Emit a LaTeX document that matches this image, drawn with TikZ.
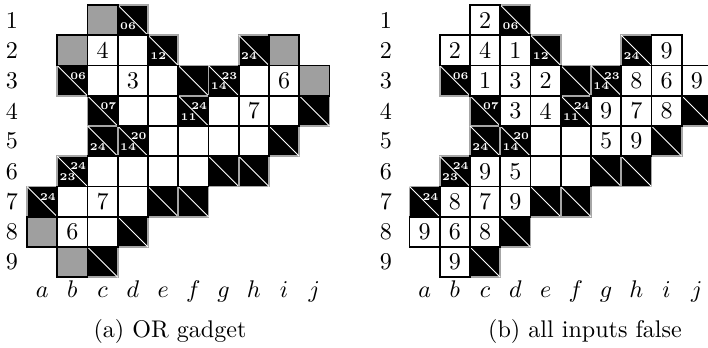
\documentclass[tikz,border=0pt]{standalone}
\usepackage{fontspec}
\tikzset{
  kcell/.style={rectangle, minimum size=12.56pt, inner sep=0pt, outer sep=0pt, line width=0.7pt},
  kwhite/.style={kcell, draw=black, fill=white, font=\normalsize},
  kgray/.style={kcell, draw=black, fill=gray!75},
  kblack/.style={kcell, draw=gray!70, fill=black},
  kdiag/.style={draw=white, line width=0.35pt},
  kclue/.style={text=white, inner sep=0pt, font=\fontsize{4.3}{5}\selectfont\bfseries},
  krow/.style={font=\normalsize},
  kcol/.style={anchor=base, font=\normalsize},
  kcap/.style={anchor=base, font=\normalsize},
}

\begin{document}
\begin{tikzpicture}[x=12.56pt, y=-12.56pt]
  \useasboundingbox (0,0) rectangle (23.405,11.471);
  % ---------------- (a) OR gadget ----------------
  \begin{scope}[shift={(0.893,0.165)}]
    % black cells: col/row/across/down
    \foreach \c/\r/\ac/\dn in {4/1/{}/06, 5/2/{}/12, 8/2/{}/24, 2/3/06/{}, 6/3/{}/{}, 7/3/23/14, 3/4/07/{}, 6/4/24/11, 10/4/{}/{},
        3/5/{}/24, 4/5/20/14, 9/5/{}/{}, 2/6/24/23, 7/6/{}/{}, 8/6/{}/{}, 1/7/24/{}, 5/7/{}/{}, 6/7/{}/{}, 4/8/{}/{}, 3/9/{}/{}} {
      \node[kblack] (a-\c-\r) at (\c-0.5,\r-0.5) {};
      \draw[kdiag] (a-\c-\r.north west) -- (a-\c-\r.south east);
      \node[kclue, anchor=north east] (a-\c-\r-ac) at ([xshift=-0.4pt,yshift=-2.6pt]a-\c-\r.north east) {\ac};
      \node[kclue, anchor=south west] (a-\c-\r-dn) at ([xshift=0.8pt,yshift=2.2pt]a-\c-\r.south west) {\dn};
    }
    % gray cells
    \foreach \c/\r in {3/1, 2/2, 9/2, 10/3, 1/8, 2/9}
      \node[kgray] (a-\c-\r) at (\c-0.5,\r-0.5) {};
    % white cells
    \foreach \c/\r/\v in {3/2/4, 4/2/{}, 3/3/{}, 4/3/3, 5/3/{}, 8/3/{}, 9/3/6, 4/4/{}, 5/4/{}, 7/4/{}, 8/4/7, 9/4/{},
        5/5/{}, 6/5/{}, 7/5/{}, 8/5/{}, 3/6/{}, 4/6/{}, 5/6/{}, 6/6/{}, 2/7/{}, 3/7/7, 4/7/{}, 2/8/6, 3/8/{}}
      \node[kwhite] (a-\c-\r) at (\c-0.5,\r-0.5) {\v};
    % labels
    \foreach \r in {1,...,9}
      \node[krow] (a-row\r) at (-0.5,\r-0.5) {\r};
    \foreach \c/\l in {1/a, 2/b, 3/c, 4/d, 5/e, 6/f, 7/g, 8/h, 9/i, 10/j}
      \node[kcol] (a-col\c) at (\c-0.5,9.68) {$\l$};
  \end{scope}
  \node[kcap] (capa) at (5.62,11.17) {(a) OR gadget};
  % ---------------- (b) all inputs false ----------------
  \begin{scope}[shift={(13.537,0.165)}]
    \foreach \c/\r/\ac/\dn in {4/1/{}/06, 5/2/{}/12, 8/2/{}/24, 2/3/06/{}, 6/3/{}/{}, 7/3/23/14, 3/4/07/{}, 6/4/24/11, 10/4/{}/{},
        3/5/{}/24, 4/5/20/14, 9/5/{}/{}, 2/6/24/23, 7/6/{}/{}, 8/6/{}/{}, 1/7/24/{}, 5/7/{}/{}, 6/7/{}/{}, 4/8/{}/{}, 3/9/{}/{}} {
      \node[kblack] (b-\c-\r) at (\c-0.5,\r-0.5) {};
      \draw[kdiag] (b-\c-\r.north west) -- (b-\c-\r.south east);
      \node[kclue, anchor=north east] (b-\c-\r-ac) at ([xshift=-0.4pt,yshift=-2.6pt]b-\c-\r.north east) {\ac};
      \node[kclue, anchor=south west] (b-\c-\r-dn) at ([xshift=0.8pt,yshift=2.2pt]b-\c-\r.south west) {\dn};
    }
    \foreach \c/\r/\v in {3/1/2, 2/2/2, 3/2/4, 4/2/1, 9/2/9, 3/3/1, 4/3/3, 5/3/2, 8/3/8, 9/3/6, 10/3/9, 4/4/3, 5/4/4, 7/4/9, 8/4/7, 9/4/8,
        5/5/{}, 6/5/{}, 7/5/5, 8/5/9, 3/6/9, 4/6/5, 5/6/{}, 6/6/{}, 2/7/8, 3/7/7, 4/7/9, 1/8/9, 2/8/6, 3/8/8, 2/9/9}
      \node[kwhite] (b-\c-\r) at (\c-0.5,\r-0.5) {\v};
    \foreach \r in {1,...,9}
      \node[krow] (b-row\r) at (-0.78,\r-0.5) {\r};
    \foreach \c/\l in {1/a, 2/b, 3/c, 4/d, 5/e, 6/f, 7/g, 8/h, 9/i, 10/j}
      \node[kcol] (b-col\c) at (\c-0.5,9.68) {$\l$};
  \end{scope}
  \node[kcap] (capb) at (19.34,11.17) {(b) all inputs false};
\end{tikzpicture}
\end{document}
